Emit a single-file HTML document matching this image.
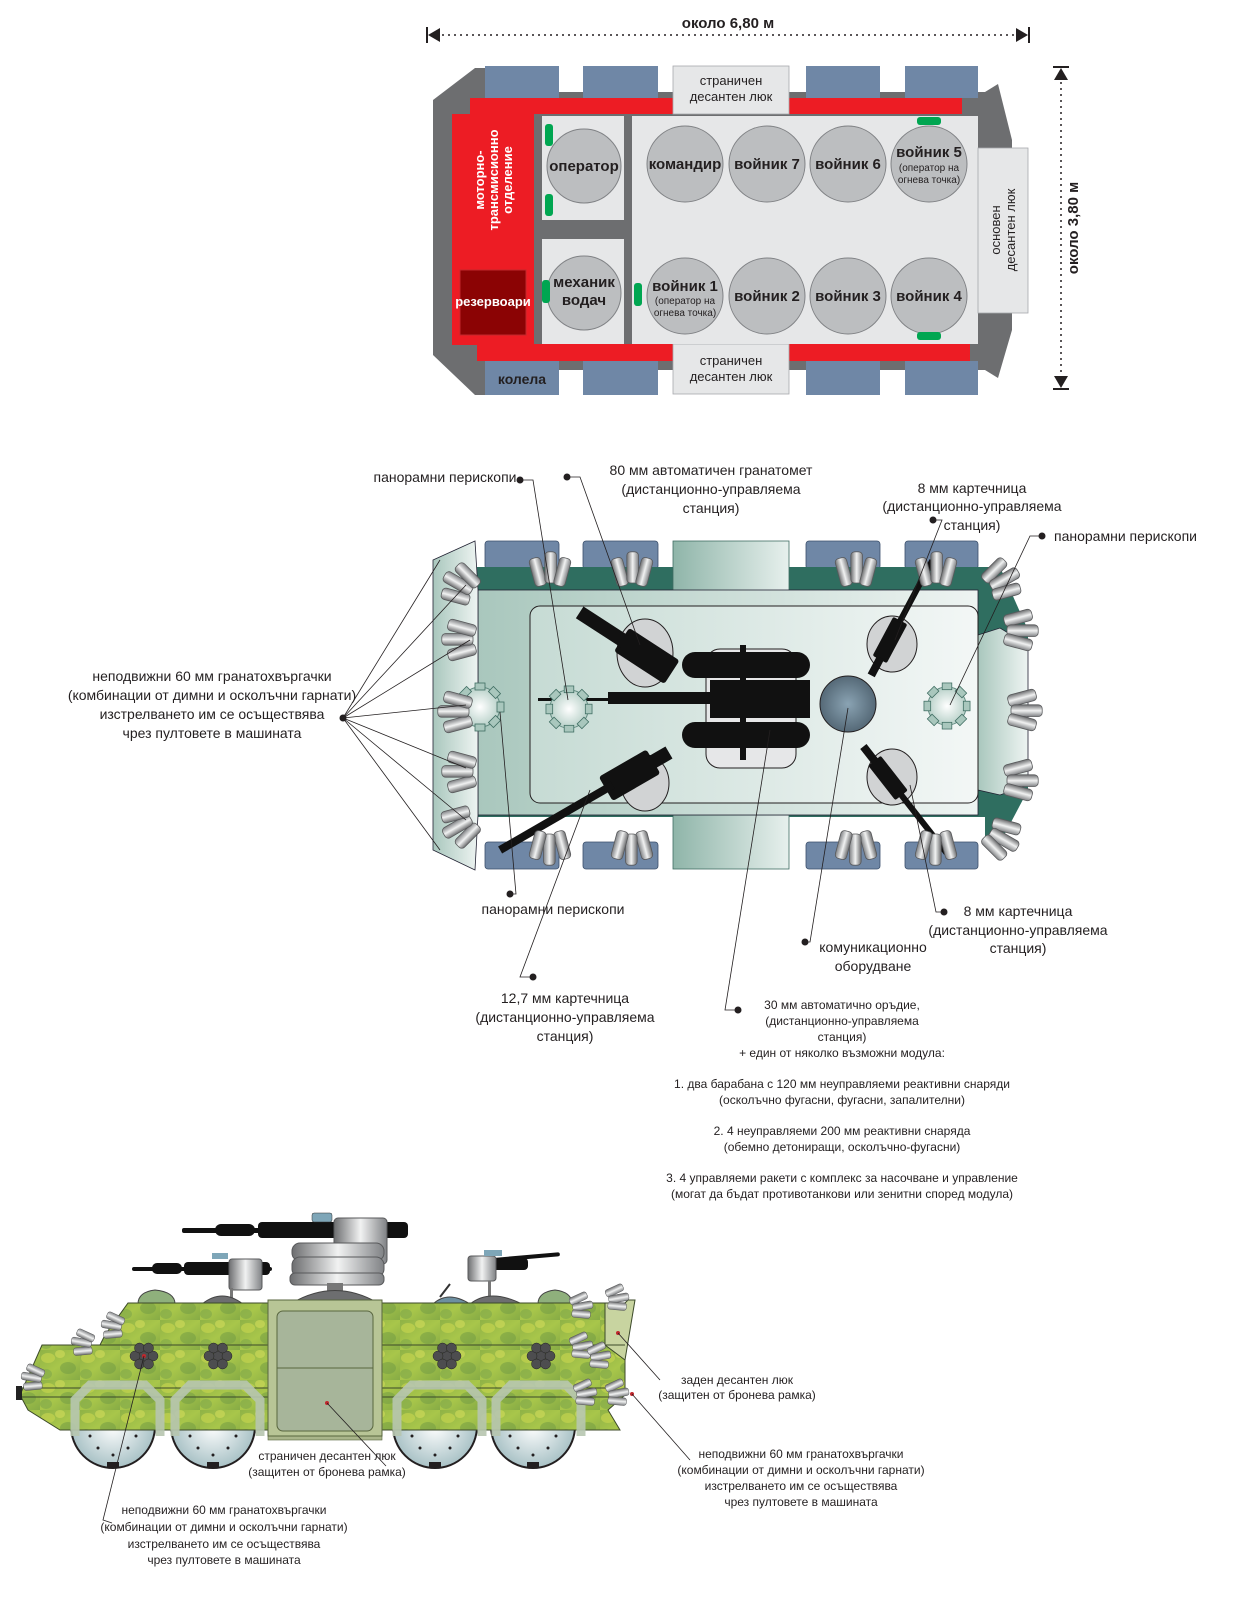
<!DOCTYPE html>
<html><head><meta charset="utf-8">
<style>
html,body{margin:0;padding:0;background:#fff;}
svg{display:block;}
text{font-family:"Liberation Sans Narrow","Liberation Sans",sans-serif;fill:#231f20;}
.lb{font-size:14px;text-anchor:middle;}
.sm{font-size:12px;text-anchor:middle;}
.ln{stroke:#231f20;stroke-width:0.8;fill:none;}
</style></head><body>
<svg width="1236" height="1600" viewBox="0 0 1236 1600" xmlns="http://www.w3.org/2000/svg">
<defs>
<linearGradient id="gr" x1="0" x2="1"><stop offset="0" stop-color="#6d6e70"/><stop offset="0.5" stop-color="#f1f2f2"/><stop offset="1" stop-color="#808285"/></linearGradient>
<linearGradient id="teal" x1="0" x2="1"><stop offset="0" stop-color="#8fb5a9"/><stop offset="1" stop-color="#e7f0ed"/></linearGradient>
<linearGradient id="hullg" x1="0" x2="1"><stop offset="0" stop-color="#a9c7bd"/><stop offset="1" stop-color="#eef4f2"/></linearGradient>
<linearGradient id="inner" x1="0" x2="1"><stop offset="0" stop-color="#c6dbd4"/><stop offset="1" stop-color="#f3f7f6"/></linearGradient>
<radialGradient id="peri"><stop offset="0" stop-color="#fff"/><stop offset="1" stop-color="#b7d0c8"/></radialGradient>
<radialGradient id="comm"><stop offset="0" stop-color="#8aa3b3"/><stop offset="1" stop-color="#556977"/></radialGradient>
<radialGradient id="whl"><stop offset="0" stop-color="#ffffff"/><stop offset="1" stop-color="#a9c2c6"/></radialGradient>
<linearGradient id="camo" x1="0" y1="0" x2="1" y2="1"><stop offset="0" stop-color="#8fb246"/><stop offset="0.5" stop-color="#a8c64a"/><stop offset="1" stop-color="#86ab45"/></linearGradient>
<pattern id="blot" width="40" height="30" patternUnits="userSpaceOnUse">
<rect width="40" height="30" fill="url(#camo)"/>
<ellipse cx="8" cy="8" rx="7" ry="5" fill="#c3d44e" opacity="0.7"/>
<ellipse cx="28" cy="18" rx="8" ry="6" fill="#6f9a44" opacity="0.5"/>
<ellipse cx="20" cy="4" rx="5" ry="4" fill="#d2dc5a" opacity="0.6"/>
<ellipse cx="6" cy="24" rx="6" ry="5" fill="#7fa64a" opacity="0.6"/>
</pattern>
<symbol id="gl" viewBox="-20 -20 40 40" overflow="visible">
<g transform="scale(1.3)">
<rect x="-14" y="-12" width="9" height="22" rx="3" fill="url(#gr)" stroke="#58595b" stroke-width="0.6" transform="rotate(-15)"/>
<rect x="-4" y="-14" width="9" height="24" rx="3" fill="url(#gr)" stroke="#58595b" stroke-width="0.6"/>
<rect x="5" y="-12" width="9" height="22" rx="3" fill="url(#gr)" stroke="#58595b" stroke-width="0.6" transform="rotate(15)"/>
</g>
</symbol>
<symbol id="per" viewBox="-25 -25 50 50" overflow="visible">
<circle r="20" fill="url(#peri)" stroke="#5f8a7f" stroke-width="1"/>
<g fill="#a9c7bd" stroke="#3f6d62" stroke-width="0.8">
<rect x="-5" y="-24" width="10" height="7"/><rect x="-5" y="17" width="10" height="7"/>
<rect x="-24" y="-5" width="7" height="10"/><rect x="17" y="-5" width="7" height="10"/>
<rect x="-5" y="-24" width="10" height="7" transform="rotate(45)"/><rect x="-5" y="-24" width="10" height="7" transform="rotate(135)"/>
<rect x="-5" y="-24" width="10" height="7" transform="rotate(225)"/><rect x="-5" y="-24" width="10" height="7" transform="rotate(315)"/>
</g>
</symbol>
</defs>

<!-- ================= TOP DIAGRAM ================= -->
<g>
<line x1="436" y1="35" x2="1020" y2="35" stroke="#231f20" stroke-width="1.5" stroke-dasharray="2 4"/>
<polygon points="428,35 440,28 440,42" fill="#231f20"/><rect x="426" y="27" width="2" height="16" fill="#231f20"/>
<polygon points="1028,35 1016,28 1016,42" fill="#231f20"/><rect x="1028" y="27" width="2" height="16" fill="#231f20"/>
<text x="728" y="28" style="font-size:15px;font-weight:bold;text-anchor:middle">около 6,80 м</text>
<line x1="1061" y1="76" x2="1061" y2="380" stroke="#231f20" stroke-width="1.5" stroke-dasharray="2 4"/>
<polygon points="1061,68 1054,80 1068,80" fill="#231f20"/><rect x="1053" y="66" width="16" height="2" fill="#231f20"/>
<polygon points="1061,388 1054,376 1068,376" fill="#231f20"/><rect x="1053" y="388" width="16" height="2" fill="#231f20"/>
<text transform="translate(1078,228) rotate(-90)" style="font-size:15px;font-weight:bold;text-anchor:middle">около 3,80 м</text>

<polygon points="475,68 485,68 485,92 985,92 998,84 1012,140 1012,330 998,378 985,370 485,370 485,395 475,395 433,355 433,100" fill="#6d6e70"/>
<g fill="#6f87a6">
<rect x="485" y="66" width="74" height="32"/><rect x="583" y="66" width="75" height="32"/><rect x="806" y="66" width="74" height="32"/><rect x="905" y="66" width="73" height="32"/>
<rect x="485" y="361" width="74" height="34"/><rect x="583" y="361" width="75" height="34"/><rect x="806" y="361" width="74" height="34"/><rect x="905" y="361" width="73" height="34"/>
</g>
<rect x="470" y="98" width="492" height="16" fill="#ed1c24"/>
<rect x="477" y="344" width="493" height="17" fill="#ed1c24"/>
<rect x="673" y="66" width="116" height="48" fill="#e6e7e8" stroke="#a7a9ac" stroke-width="0.8"/>
<rect x="673" y="344" width="116" height="50" fill="#e6e7e8" stroke="#a7a9ac" stroke-width="0.8"/>
<text x="731" y="85" class="lb" style="font-size:13px">страничен</text><text x="731" y="101" class="lb" style="font-size:13px">десантен люк</text>
<text x="731" y="365" class="lb" style="font-size:13px">страничен</text><text x="731" y="381" class="lb" style="font-size:13px">десантен люк</text>
<text x="522" y="384" class="lb" style="font-size:14px;font-weight:bold">колела</text>
<rect x="452" y="114" width="82" height="231" fill="#ed1c24"/>
<rect x="460" y="270" width="66" height="65" fill="#8b0304" stroke="#c1272d"/>
<text x="493" y="306" class="lb" style="fill:#fff;font-weight:bold;font-size:13px">резервоари</text>
<text transform="translate(484,180) rotate(-90)" class="lb" style="fill:#fff;font-weight:bold;font-size:13px">моторно-</text>
<text transform="translate(498,180) rotate(-90)" class="lb" style="fill:#fff;font-weight:bold;font-size:13px">трансмисионно</text>
<text transform="translate(512,180) rotate(-90)" class="lb" style="fill:#fff;font-weight:bold;font-size:13px">отделение</text>
<rect x="542" y="116" width="82" height="104" fill="#e6e7e8"/>
<rect x="542" y="239" width="82" height="105" fill="#e6e7e8"/>
<rect x="632" y="116" width="346" height="228" fill="#e6e7e8"/>
<rect x="978" y="148" width="50" height="165" fill="#e6e7e8" stroke="#a7a9ac" stroke-width="0.8"/>
<text transform="translate(1000,230) rotate(-90)" class="lb" style="font-size:13px">основен</text>
<text transform="translate(1015,230) rotate(-90)" class="lb" style="font-size:13px">десантен люк</text>
<g fill="#bcbec0" stroke="#808285" stroke-width="1">
<circle cx="584" cy="166" r="37"/><circle cx="584" cy="293" r="37"/>
<circle cx="685" cy="164" r="38"/><circle cx="767" cy="164" r="38"/><circle cx="848" cy="164" r="38"/><circle cx="929" cy="164" r="38"/>
<circle cx="685" cy="296" r="38"/><circle cx="767" cy="296" r="38"/><circle cx="848" cy="296" r="38"/><circle cx="929" cy="296" r="38"/>
</g>
<g style="font-size:15px;font-weight:bold;text-anchor:middle">
<text x="584" y="171">оператор</text>
<text x="584" y="287">механик</text><text x="584" y="305">водач</text>
<text x="685" y="169">командир</text><text x="767" y="169">войник 7</text><text x="848" y="169">войник 6</text>
<text x="929" y="157">войник 5</text>
<text x="685" y="291">войник 1</text><text x="767" y="301">войник 2</text><text x="848" y="301">войник 3</text><text x="929" y="301">войник 4</text>
</g>
<text x="929" y="171" class="sm" style="font-size:10px">(оператор на</text><text x="929" y="183" class="sm" style="font-size:10px">огнева точка)</text>
<text x="685" y="304" class="sm" style="font-size:10px">(оператор на</text><text x="685" y="316" class="sm" style="font-size:10px">огнева точка)</text>
<g fill="#00a651">
<rect x="545" y="124" width="8" height="22" rx="3"/><rect x="545" y="194" width="8" height="22" rx="3"/>
<rect x="542" y="280" width="8" height="23" rx="3"/><rect x="634" y="283" width="8" height="23" rx="3"/>
<rect x="917" y="117" width="24" height="8" rx="3"/><rect x="917" y="332" width="24" height="8" rx="3"/>
</g>
</g>

<!-- ================= MIDDLE DIAGRAM ================= -->
<g>
<g fill="#6f87a6" stroke="#3b4f6b" stroke-width="0.8">
<rect x="485" y="541" width="74" height="28" rx="3"/><rect x="583" y="541" width="75" height="28" rx="3"/><rect x="806" y="541" width="74" height="28" rx="3"/><rect x="905" y="541" width="73" height="28" rx="3"/>
<rect x="485" y="842" width="74" height="27" rx="3"/><rect x="583" y="842" width="75" height="27" rx="3"/><rect x="806" y="842" width="74" height="27" rx="3"/><rect x="905" y="842" width="73" height="27" rx="3"/>
</g>
<rect x="470" y="567" width="515" height="250" fill="#2f6e60"/>
<polygon points="985,567 1000,567 1028,630 1028,790 1000,843 985,843" fill="#2f6e60"/>
<rect x="673" y="541" width="116" height="74" fill="url(#teal)" stroke="#3f6d62" stroke-width="0.8"/>
<rect x="673" y="815" width="116" height="54" fill="url(#teal)" stroke="#3f6d62" stroke-width="0.8"/>
<rect x="478" y="590" width="500" height="225" fill="url(#hullg)" stroke="#223" stroke-width="0.8"/>
<polygon points="978,635 1000,628 1028,645 1028,785 1000,795 978,790" fill="url(#hullg)" stroke="#223" stroke-width="0.8"/>
<polygon points="433,560 475,541 478,590 478,815 475,870 433,850" fill="url(#hullg)" stroke="#223" stroke-width="0.8"/>
<rect x="530" y="606" width="448" height="197" rx="10" fill="url(#inner)" stroke="#231f20" stroke-width="1"/>
<rect x="706" y="649" width="90" height="119" rx="14" fill="#e6e7e8" stroke="#231f20"/>
<g fill="#d1d3d4" stroke="#231f20"><ellipse cx="645" cy="653" rx="28" ry="34"/><ellipse cx="645" cy="783" rx="24" ry="28"/>
<ellipse cx="892" cy="644" rx="25" ry="28"/><ellipse cx="892" cy="777" rx="25" ry="28"/></g>
<circle cx="848" cy="704" r="28" fill="url(#comm)" stroke="#231f20"/>
<g fill="#111">
<rect x="682" y="652" width="128" height="26" rx="13"/><rect x="682" y="722" width="128" height="26" rx="13"/>
<rect x="710" y="680" width="100" height="38"/><rect x="608" y="692" width="105" height="12"/>
<rect x="538" y="698" width="75" height="3"/>
<rect x="740" y="645" width="6" height="115"/>
<g transform="translate(630,645) rotate(33)"><rect x="-10" y="-14" width="60" height="28" rx="3"/><rect x="-60" y="-7" width="55" height="14"/></g>
<g transform="translate(630,775) rotate(-30)"><rect x="-28" y="-14" width="55" height="28" rx="3"/><rect x="-150" y="-4" width="130" height="8"/><rect x="25" y="-7" width="20" height="14"/></g>
<g transform="translate(890,640) rotate(-62)"><rect x="-22" y="-8" width="44" height="16" rx="2"/><rect x="20" y="-3" width="70" height="6"/><rect x="-40" y="-4" width="20" height="8"/></g>
<g transform="translate(888,778) rotate(52)"><rect x="-22" y="-8" width="44" height="16" rx="2"/><rect x="20" y="-3" width="75" height="6"/><rect x="-40" y="-4" width="20" height="8"/></g>
</g>
<use href="#per" x="455" y="682" width="50" height="50"/>
<use href="#per" x="545" y="685" width="48" height="48"/>
<use href="#per" x="923" y="682" width="48" height="48"/>
<g>
<use href="#gl" x="530" y="550" width="40" height="40"/><use href="#gl" x="612" y="550" width="40" height="40"/>
<use href="#gl" x="836" y="550" width="40" height="40"/><use href="#gl" x="916" y="550" width="40" height="40"/>
<use href="#gl" x="530" y="827" width="40" height="40" transform="rotate(180 550 847)"/><use href="#gl" x="612" y="827" width="40" height="40" transform="rotate(180 632 847)"/>
<use href="#gl" x="836" y="827" width="40" height="40" transform="rotate(180 856 847)"/><use href="#gl" x="916" y="827" width="40" height="40" transform="rotate(180 936 847)"/>
<use href="#gl" x="440" y="565" width="40" height="40" transform="rotate(-60 460 585)"/>
<use href="#gl" x="440" y="620" width="40" height="40" transform="rotate(-90 460 640)"/>
<use href="#gl" x="436" y="692" width="40" height="40" transform="rotate(-90 456 712)"/>
<use href="#gl" x="440" y="752" width="40" height="40" transform="rotate(-90 460 772)"/>
<use href="#gl" x="440" y="806" width="40" height="40" transform="rotate(-120 460 826)"/>
<use href="#gl" x="982" y="560" width="40" height="40" transform="rotate(60 1002 580)"/>
<use href="#gl" x="1000" y="610" width="40" height="40" transform="rotate(90 1020 630)"/>
<use href="#gl" x="1004" y="690" width="40" height="40" transform="rotate(90 1024 710)"/>
<use href="#gl" x="1000" y="760" width="40" height="40" transform="rotate(90 1020 780)"/>
<use href="#gl" x="982" y="818" width="40" height="40" transform="rotate(120 1002 838)"/>
</g>
<g class="ln">
<polyline points="343,718 466,585"/><polyline points="343,718 470,640"/><polyline points="343,718 466,705"/><polyline points="343,718 466,768"/><polyline points="343,718 466,820"/>
<polyline points="343,718 440,560"/><polyline points="343,718 440,850"/>
<polyline points="520,480 533,480 568,700"/>
<polyline points="567,477 580,477 640,645"/>
<polyline points="933,520 942,520 895,640"/>
<polyline points="1042,536 1030,536 950,705"/>
<polyline points="510,894 516,894 500,712"/>
<polyline points="533,977 520,977 590,790"/>
<polyline points="944,912 936,912 910,785"/>
<polyline points="805,942 810,942 848,708"/>
<polyline points="738,1010 725,1010 770,730"/>
</g>
<g fill="#231f20">
<circle cx="343" cy="718" r="3.5"/><circle cx="520" cy="480" r="3.5"/><circle cx="567" cy="477" r="3.5"/>
<circle cx="933" cy="520" r="3.5"/><circle cx="1042" cy="536" r="3.5"/><circle cx="510" cy="894" r="3.5"/>
<circle cx="533" cy="977" r="3.5"/><circle cx="944" cy="912" r="3.5"/><circle cx="805" cy="942" r="3.5"/><circle cx="738" cy="1010" r="3.5"/>
</g>
<text x="445" y="482" class="lb">панорамни перископи</text>
<text x="711" y="475" class="lb">80 мм автоматичен гранатомет</text>
<text x="711" y="494" class="lb">(дистанционно-управляема</text>
<text x="711" y="513" class="lb">станция)</text>
<text x="972" y="493" class="lb">8 мм картечница</text>
<text x="972" y="511" class="lb">(дистанционно-управляема</text>
<text x="972" y="530" class="lb">станция)</text>
<text x="1054" y="541" style="font-size:14px">панорамни перископи</text>
<text x="212" y="681" class="lb">неподвижни 60 мм гранатохвъргачки</text>
<text x="212" y="700" class="lb">(комбинации от димни и осколъчни гарнати)</text>
<text x="212" y="719" class="lb">изстрелването им се осъществява</text>
<text x="212" y="738" class="lb">чрез пултовете в машината</text>
<text x="553" y="914" class="lb">панорамни перископи</text>
<text x="1018" y="916" class="lb">8 мм картечница</text>
<text x="1018" y="935" class="lb">(дистанционно-управляема</text>
<text x="1018" y="953" class="lb">станция)</text>
<text x="873" y="952" class="lb">комуникационно</text>
<text x="873" y="971" class="lb">оборудване</text>
<text x="565" y="1003" class="lb">12,7 мм картечница</text>
<text x="565" y="1022" class="lb">(дистанционно-управляема</text>
<text x="565" y="1041" class="lb">станция)</text>
<text x="842" y="1009" class="sm">30 мм автоматично оръдие,</text>
<text x="842" y="1025" class="sm">(дистанционно-управляема</text>
<text x="842" y="1041" class="sm">станция)</text>
<text x="842" y="1057" class="sm">+ един от няколко възможни модула:</text>
<text x="842" y="1088" class="sm">1. два барабана с 120 мм неуправляеми реактивни снаряди</text>
<text x="842" y="1104" class="sm">(осколъчно фугасни, фугасни, запалителни)</text>
<text x="842" y="1135" class="sm">2. 4 неуправляеми 200 мм реактивни снаряда</text>
<text x="842" y="1151" class="sm">(обемно детониращи, осколъчно-фугасни)</text>
<text x="842" y="1182" class="sm">3. 4 управляеми ракети с комплекс за насочване и управление</text>
<text x="842" y="1198" class="sm">(могат да бъдат противотанкови или зенитни според модула)</text>
</g>

<!-- ================= BOTTOM SIDE VIEW ================= -->
<g>
<g fill="#111">
<rect x="182" y="1228" width="215" height="5" rx="2"/><rect x="215" y="1224" width="40" height="12" rx="6"/><rect x="258" y="1222" width="150" height="16" rx="4"/>
<rect x="132" y="1267" width="140" height="4" rx="2"/><rect x="152" y="1263" width="30" height="11" rx="5"/><rect x="184" y="1262" width="86" height="13" rx="4"/>
<rect x="470" y="1260" width="90" height="4" rx="2" transform="rotate(-5 470 1260)"/><rect x="468" y="1258" width="60" height="12" rx="4"/>
</g>
<rect x="312" y="1213" width="20" height="9" rx="2" fill="#7ea6b8" stroke="#333" stroke-width="0.5"/>
<rect x="334" y="1218" width="53" height="46" rx="4" fill="url(#gr)" stroke="#58595b"/>
<rect x="292" y="1243" width="92" height="18" rx="8" fill="url(#gr)" stroke="#58595b"/>
<rect x="292" y="1257" width="92" height="20" rx="8" fill="url(#gr)" stroke="#58595b"/>
<rect x="290" y="1273" width="94" height="12" rx="5" fill="url(#gr)" stroke="#58595b"/>
<rect x="327" y="1283" width="16" height="10" fill="#777"/>
<path d="M292,1303 Q335,1278 378,1303 Z" fill="#6d6e70" stroke="#444"/>
<rect x="229" y="1259" width="33" height="31" rx="3" fill="url(#gr)" stroke="#58595b"/>
<rect x="212" y="1253" width="16" height="6" fill="#7ea6b8"/>
<rect x="230" y="1288" width="3" height="17" fill="#777"/>
<path d="M202,1304 Q222,1288 243,1304 Z" fill="#6d6e70" stroke="#444"/>
<rect x="468" y="1256" width="28" height="25" rx="3" fill="url(#gr)" stroke="#58595b"/>
<rect x="484" y="1250" width="18" height="6" fill="#7ea6b8"/>
<rect x="488" y="1281" width="3" height="20" fill="#777"/>
<path d="M470,1304 Q490,1288 522,1304 Z" fill="#6d6e70" stroke="#444"/>
<path d="M433,1304 Q448,1290 470,1304 Z" fill="#6d8fa0" stroke="#444"/><line x1="440" y1="1297" x2="450" y2="1284" stroke="#333" stroke-width="2"/>
<path d="M138,1304 Q138,1292 155,1290 Q175,1292 175,1304 Z" fill="#8fb07c" stroke="#444"/>
<path d="M538,1304 Q538,1292 555,1290 Q572,1292 572,1304 Z" fill="#8fb07c" stroke="#444"/>
<!-- wheels (behind hull) -->
<g fill="url(#whl)" stroke="#231f20" stroke-width="2">
<circle cx="113" cy="1426" r="42"/><circle cx="213" cy="1426" r="42"/>
<circle cx="435" cy="1426" r="42"/><circle cx="533" cy="1426" r="42"/>
</g>
<g fill="#231f20">
<circle cx="98" cy="1448" r="1.5"/><circle cx="113" cy="1455" r="1.5"/><circle cx="128" cy="1448" r="1.5"/><circle cx="90" cy="1436" r="1.5"/><circle cx="136" cy="1436" r="1.5"/>
<circle cx="198" cy="1448" r="1.5"/><circle cx="213" cy="1455" r="1.5"/><circle cx="228" cy="1448" r="1.5"/><circle cx="190" cy="1436" r="1.5"/><circle cx="236" cy="1436" r="1.5"/>
<circle cx="420" cy="1448" r="1.5"/><circle cx="435" cy="1455" r="1.5"/><circle cx="450" cy="1448" r="1.5"/><circle cx="412" cy="1436" r="1.5"/><circle cx="458" cy="1436" r="1.5"/>
<circle cx="518" cy="1448" r="1.5"/><circle cx="533" cy="1455" r="1.5"/><circle cx="548" cy="1448" r="1.5"/><circle cx="510" cy="1436" r="1.5"/><circle cx="556" cy="1436" r="1.5"/>
<rect x="107" y="1462" width="12" height="6"/><rect x="207" y="1462" width="12" height="6"/><rect x="429" y="1462" width="12" height="6"/><rect x="527" y="1462" width="12" height="6"/>
</g>
<!-- hull -->
<polygon points="128,1303 605,1303 625,1303 625,1395 608,1410 620,1430 60,1430 28,1410 20,1395 42,1345 100,1345 105,1335" fill="url(#blot)" stroke="#3c4a2a" stroke-width="1"/>
<rect x="268" y="1430" width="114" height="10" fill="#a9b58a" stroke="#59663f" stroke-width="0.6"/>
<polygon points="605,1303 625,1303 628,1300 635,1300 625,1360 605,1345" fill="#c8d4a0" stroke="#3c4a2a"/>
<line x1="42" y1="1345" x2="625" y2="1345" stroke="#3c4a2a"/>
<line x1="20" y1="1397" x2="610" y2="1397" stroke="#3c4a2a"/>
<line x1="20" y1="1388" x2="610" y2="1388" stroke="#3c4a2a"/>
<rect x="16" y="1386" width="6" height="14" fill="#222"/>
<g fill="none" stroke="#b7c6b0" stroke-width="9" opacity="0.9">
<path d="M75,1436 V1400 L90,1385 H145 L160,1400 V1436"/><path d="M175,1436 V1400 L190,1385 H245 L260,1400 V1436"/>
<path d="M397,1436 V1400 L412,1385 H467 L482,1400 V1436"/><path d="M496,1436 V1400 L511,1385 H566 L581,1400 V1436"/>
</g>
<rect x="268" y="1300" width="114" height="136" fill="#b8c596" stroke="#59663f"/>
<rect x="277" y="1311" width="96" height="120" rx="6" fill="#a7b59a" stroke="#59663f"/>
<line x1="277" y1="1368" x2="373" y2="1368" stroke="#59663f"/>
<g fill="#4d4d4f" stroke="#222" stroke-width="0.5">
<g transform="translate(144,1356)"><circle r="5"/><circle cx="-9" r="5"/><circle cx="9" r="5"/><circle cx="-4.5" cy="-8" r="5"/><circle cx="4.5" cy="-8" r="5"/><circle cx="-4.5" cy="8" r="5"/><circle cx="4.5" cy="8" r="5"/></g>
<g transform="translate(218,1356)"><circle r="5"/><circle cx="-9" r="5"/><circle cx="9" r="5"/><circle cx="-4.5" cy="-8" r="5"/><circle cx="4.5" cy="-8" r="5"/><circle cx="-4.5" cy="8" r="5"/><circle cx="4.5" cy="8" r="5"/></g>
<g transform="translate(447,1356)"><circle r="5"/><circle cx="-9" r="5"/><circle cx="9" r="5"/><circle cx="-4.5" cy="-8" r="5"/><circle cx="4.5" cy="-8" r="5"/><circle cx="-4.5" cy="8" r="5"/><circle cx="4.5" cy="8" r="5"/></g>
<g transform="translate(541,1356)"><circle r="5"/><circle cx="-9" r="5"/><circle cx="9" r="5"/><circle cx="-4.5" cy="-8" r="5"/><circle cx="4.5" cy="-8" r="5"/><circle cx="-4.5" cy="8" r="5"/><circle cx="4.5" cy="8" r="5"/></g>
</g>
<g>
<use href="#gl" x="100" y="1313" width="26" height="26" transform="rotate(-80 113 1326)"/>
<use href="#gl" x="70" y="1330" width="26" height="26" transform="rotate(-80 83 1343)"/>
<use href="#gl" x="20" y="1365" width="26" height="26" transform="rotate(-80 33 1378)"/>
<use href="#gl" x="568" y="1293" width="26" height="26" transform="rotate(80 581 1306)"/>
<use href="#gl" x="604" y="1285" width="26" height="26" transform="rotate(80 617 1298)"/>
<use href="#gl" x="568" y="1333" width="26" height="26" transform="rotate(80 581 1346)"/>
<use href="#gl" x="586" y="1343" width="26" height="26" transform="rotate(80 599 1356)"/>
<use href="#gl" x="572" y="1380" width="26" height="26" transform="rotate(80 585 1393)"/>
<use href="#gl" x="604" y="1380" width="26" height="26" transform="rotate(80 617 1393)"/>
</g>
<g fill="#c1272d"><circle cx="144" cy="1356" r="2"/><circle cx="327" cy="1403" r="2"/><circle cx="618" cy="1333" r="2"/><circle cx="632" cy="1394" r="2"/></g>
<g class="ln">
<polyline points="618,1333 660,1380"/><polyline points="632,1394 690,1460"/>
<polyline points="327,1403 386,1466"/><polyline points="144,1356 103,1520 112,1523"/>
</g>
<text x="737" y="1384" class="sm">заден десантен люк</text>
<text x="737" y="1399" class="sm">(защитен от бронева рамка)</text>
<text x="801" y="1458" class="sm">неподвижни 60 мм гранатохвъргачки</text>
<text x="801" y="1474" class="sm">(комбинации от димни и осколъчни гарнати)</text>
<text x="801" y="1490" class="sm">изстрелването им се осъществява</text>
<text x="801" y="1506" class="sm">чрез пултовете в машината</text>
<text x="327" y="1460" class="sm">страничен десантен люк</text>
<text x="327" y="1476" class="sm">(защитен от бронева рамка)</text>
<text x="224" y="1514" class="sm">неподвижни 60 мм гранатохвъргачки</text>
<text x="224" y="1531" class="sm">(комбинации от димни и осколъчни гарнати)</text>
<text x="224" y="1548" class="sm">изстрелването им се осъществява</text>
<text x="224" y="1564" class="sm">чрез пултовете в машината</text>
</g>
</svg>
</body></html>
